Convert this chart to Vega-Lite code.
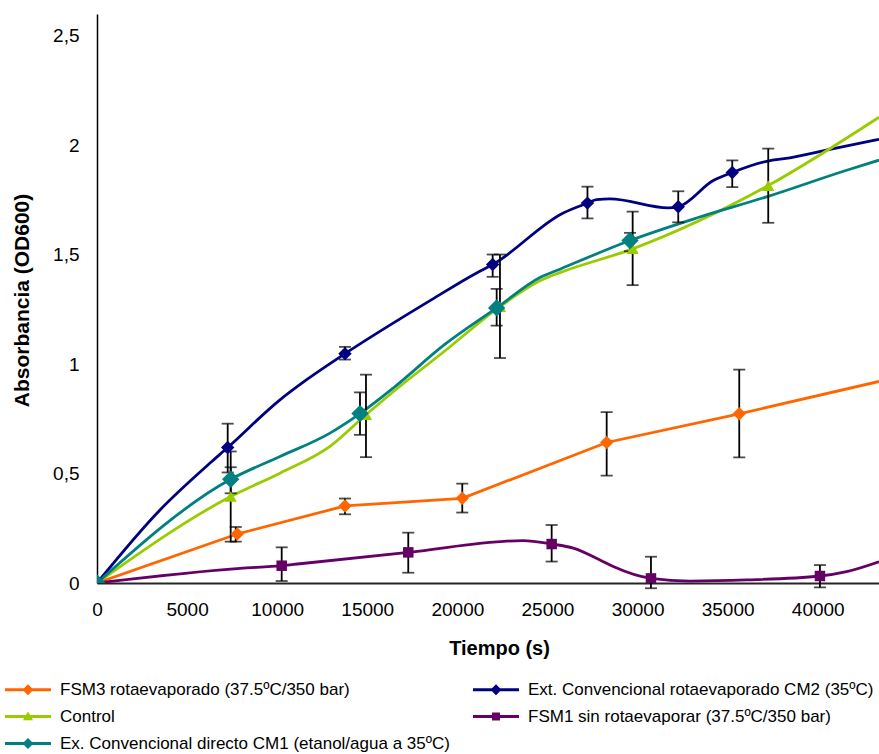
{
  "$schema": "https://vega.github.io/schema/vega-lite/v6.json",
  "width": 782,
  "height": 569,
  "autosize": "none",
  "padding": {"left": 97, "top": 14, "right": 0, "bottom": 171},
  "background": "white",
  "config": {"view": {"stroke": null}, "font": "Liberation Sans"},
  "datasets": {
    "lines": [
      {"series": "FSM3 rotaevaporado (37.5ºC/350 bar)", "t": 0, "od": 0},
      {"series": "FSM3 rotaevaporado (37.5ºC/350 bar)", "t": 7786, "od": 0.224},
      {"series": "FSM3 rotaevaporado (37.5ºC/350 bar)", "t": 13763, "od": 0.352},
      {"series": "FSM3 rotaevaporado (37.5ºC/350 bar)", "t": 20272, "od": 0.387},
      {"series": "FSM3 rotaevaporado (37.5ºC/350 bar)", "t": 28286, "od": 0.642},
      {"series": "FSM3 rotaevaporado (37.5ºC/350 bar)", "t": 35644, "od": 0.773},
      {"series": "FSM3 rotaevaporado (37.5ºC/350 bar)", "t": 43400, "od": 0.921},
      {"series": "Ext. Convencional rotaevaporado CM2 (35ºC)", "t": 0, "od": 0},
      {"series": "Ext. Convencional rotaevaporado CM2 (35ºC)", "t": 3496, "od": 0.334},
      {"series": "Ext. Convencional rotaevaporado CM2 (35ºC)", "t": 6271, "od": 0.548},
      {"series": "Ext. Convencional rotaevaporado CM2 (35ºC)", "t": 7253, "od": 0.619},
      {"series": "Ext. Convencional rotaevaporado CM2 (35ºC)", "t": 10155, "od": 0.837},
      {"series": "Ext. Convencional rotaevaporado CM2 (35ºC)", "t": 11637, "od": 0.929},
      {"series": "Ext. Convencional rotaevaporado CM2 (35ºC)", "t": 13763, "od": 1.048},
      {"series": "Ext. Convencional rotaevaporado CM2 (35ºC)", "t": 18574, "od": 1.295},
      {"series": "Ext. Convencional rotaevaporado CM2 (35ºC)", "t": 21071, "od": 1.417},
      {"series": "Ext. Convencional rotaevaporado CM2 (35ºC)", "t": 21959, "od": 1.455},
      {"series": "Ext. Convencional rotaevaporado CM2 (35ºC)", "t": 25877, "od": 1.691},
      {"series": "Ext. Convencional rotaevaporado CM2 (35ºC)", "t": 27220, "od": 1.736},
      {"series": "Ext. Convencional rotaevaporado CM2 (35ºC)", "t": 27731, "od": 1.752},
      {"series": "Ext. Convencional rotaevaporado CM2 (35ºC)", "t": 28469, "od": 1.755},
      {"series": "Ext. Convencional rotaevaporado CM2 (35ºC)", "t": 31704, "od": 1.714},
      {"series": "Ext. Convencional rotaevaporado CM2 (35ºC)", "t": 32259, "od": 1.719},
      {"series": "Ext. Convencional rotaevaporado CM2 (35ºC)", "t": 34201, "od": 1.839},
      {"series": "Ext. Convencional rotaevaporado CM2 (35ºC)", "t": 35256, "od": 1.876},
      {"series": "Ext. Convencional rotaevaporado CM2 (35ºC)", "t": 37164, "od": 1.927},
      {"series": "Ext. Convencional rotaevaporado CM2 (35ºC)", "t": 38457, "od": 1.943},
      {"series": "Ext. Convencional rotaevaporado CM2 (35ºC)", "t": 40677, "od": 1.981},
      {"series": "Ext. Convencional rotaevaporado CM2 (35ºC)", "t": 43400, "od": 2.027},
      {"series": "Control", "t": 0, "od": 0},
      {"series": "Control", "t": 7420, "od": 0.395},
      {"series": "Control", "t": 10155, "od": 0.502},
      {"series": "Control", "t": 12930, "od": 0.624},
      {"series": "Control", "t": 14928, "od": 0.769},
      {"series": "Control", "t": 16443, "od": 0.874},
      {"series": "Control", "t": 19300, "od": 1.06},
      {"series": "Control", "t": 22364, "od": 1.263},
      {"series": "Control", "t": 24584, "od": 1.381},
      {"series": "Control", "t": 25693, "od": 1.418},
      {"series": "Control", "t": 29728, "od": 1.527},
      {"series": "Control", "t": 37253, "od": 1.816},
      {"series": "Control", "t": 43400, "od": 2.128},
      {"series": "FSM1 sin rotaevaporar (37.5ºC/350 bar)", "t": 0, "od": 0},
      {"series": "FSM1 sin rotaevaporar (37.5ºC/350 bar)", "t": 7936, "od": 0.067},
      {"series": "FSM1 sin rotaevaporar (37.5ºC/350 bar)", "t": 10250, "od": 0.079},
      {"series": "FSM1 sin rotaevaporar (37.5ºC/350 bar)", "t": 11265, "od": 0.088},
      {"series": "FSM1 sin rotaevaporar (37.5ºC/350 bar)", "t": 17275, "od": 0.14},
      {"series": "FSM1 sin rotaevaporar (37.5ºC/350 bar)", "t": 23657, "od": 0.194},
      {"series": "FSM1 sin rotaevaporar (37.5ºC/350 bar)", "t": 25233, "od": 0.178},
      {"series": "FSM1 sin rotaevaporar (37.5ºC/350 bar)", "t": 26432, "od": 0.159},
      {"series": "FSM1 sin rotaevaporar (37.5ºC/350 bar)", "t": 27913, "od": 0.105},
      {"series": "FSM1 sin rotaevaporar (37.5ºC/350 bar)", "t": 28651, "od": 0.075},
      {"series": "FSM1 sin rotaevaporar (37.5ºC/350 bar)", "t": 30744, "od": 0.021},
      {"series": "FSM1 sin rotaevaporar (37.5ºC/350 bar)", "t": 32908, "od": 0.009},
      {"series": "FSM1 sin rotaevaporar (37.5ºC/350 bar)", "t": 36054, "od": 0.014},
      {"series": "FSM1 sin rotaevaporar (37.5ºC/350 bar)", "t": 40122, "od": 0.032},
      {"series": "FSM1 sin rotaevaporar (37.5ºC/350 bar)", "t": 41603, "od": 0.052},
      {"series": "FSM1 sin rotaevaporar (37.5ºC/350 bar)", "t": 43400, "od": 0.097},
      {"series": "Ex. Convencional directo CM1 (etanol/agua a 35ºC)", "t": 0, "od": 0},
      {"series": "Ex. Convencional directo CM1 (etanol/agua a 35ºC)", "t": 7420, "od": 0.474},
      {"series": "Ex. Convencional directo CM1 (etanol/agua a 35ºC)", "t": 10155, "od": 0.578},
      {"series": "Ex. Convencional directo CM1 (etanol/agua a 35ºC)", "t": 12930, "od": 0.685},
      {"series": "Ex. Convencional directo CM1 (etanol/agua a 35ºC)", "t": 14595, "od": 0.774},
      {"series": "Ex. Convencional directo CM1 (etanol/agua a 35ºC)", "t": 16443, "od": 0.891},
      {"series": "Ex. Convencional directo CM1 (etanol/agua a 35ºC)", "t": 19300, "od": 1.09},
      {"series": "Ex. Convencional directo CM1 (etanol/agua a 35ºC)", "t": 22181, "od": 1.257},
      {"series": "Ex. Convencional directo CM1 (etanol/agua a 35ºC)", "t": 24584, "od": 1.396},
      {"series": "Ex. Convencional directo CM1 (etanol/agua a 35ºC)", "t": 25693, "od": 1.434},
      {"series": "Ex. Convencional directo CM1 (etanol/agua a 35ºC)", "t": 29580, "od": 1.565},
      {"series": "Ex. Convencional directo CM1 (etanol/agua a 35ºC)", "t": 33278, "od": 1.668},
      {"series": "Ex. Convencional directo CM1 (etanol/agua a 35ºC)", "t": 37252, "od": 1.767},
      {"series": "Ex. Convencional directo CM1 (etanol/agua a 35ºC)", "t": 41603, "od": 1.886},
      {"series": "Ex. Convencional directo CM1 (etanol/agua a 35ºC)", "t": 43400, "od": 1.932}
    ],
    "markers": [
      {"grupo": "FSM3 rotaevaporado (37.5ºC/350 bar)", "t": 0, "od": 0},
      {"grupo": "FSM3 rotaevaporado (37.5ºC/350 bar)", "t": 7786, "od": 0.224},
      {"grupo": "FSM3 rotaevaporado (37.5ºC/350 bar)", "t": 13763, "od": 0.352},
      {"grupo": "FSM3 rotaevaporado (37.5ºC/350 bar)", "t": 20272, "od": 0.387},
      {"grupo": "FSM3 rotaevaporado (37.5ºC/350 bar)", "t": 28286, "od": 0.642},
      {"grupo": "FSM3 rotaevaporado (37.5ºC/350 bar)", "t": 35644, "od": 0.773},
      {"grupo": "Ext. Convencional rotaevaporado CM2 (35ºC)", "t": 0, "od": 0},
      {"grupo": "Ext. Convencional rotaevaporado CM2 (35ºC)", "t": 7253, "od": 0.619},
      {"grupo": "Ext. Convencional rotaevaporado CM2 (35ºC)", "t": 13763, "od": 1.048},
      {"grupo": "Ext. Convencional rotaevaporado CM2 (35ºC)", "t": 21959, "od": 1.455},
      {"grupo": "Ext. Convencional rotaevaporado CM2 (35ºC)", "t": 27220, "od": 1.736},
      {"grupo": "Ext. Convencional rotaevaporado CM2 (35ºC)", "t": 32259, "od": 1.719},
      {"grupo": "Ext. Convencional rotaevaporado CM2 (35ºC)", "t": 35256, "od": 1.876},
      {"grupo": "Control", "t": 0, "od": 0},
      {"grupo": "Control", "t": 7420, "od": 0.395},
      {"grupo": "Control", "t": 14928, "od": 0.769},
      {"grupo": "Control", "t": 22364, "od": 1.263},
      {"grupo": "Control", "t": 29728, "od": 1.527},
      {"grupo": "Control", "t": 37253, "od": 1.816},
      {"grupo": "FSM1 sin rotaevaporar (37.5ºC/350 bar)", "t": 0, "od": 0},
      {"grupo": "FSM1 sin rotaevaporar (37.5ºC/350 bar)", "t": 10250, "od": 0.079},
      {"grupo": "FSM1 sin rotaevaporar (37.5ºC/350 bar)", "t": 17275, "od": 0.14},
      {"grupo": "FSM1 sin rotaevaporar (37.5ºC/350 bar)", "t": 25233, "od": 0.178},
      {"grupo": "FSM1 sin rotaevaporar (37.5ºC/350 bar)", "t": 30744, "od": 0.021},
      {"grupo": "FSM1 sin rotaevaporar (37.5ºC/350 bar)", "t": 40122, "od": 0.032},
      {"grupo": "Ex. Convencional directo CM1 (etanol/agua a 35ºC)", "t": 0, "od": 0},
      {"grupo": "Ex. Convencional directo CM1 (etanol/agua a 35ºC)", "t": 7420, "od": 0.474},
      {"grupo": "Ex. Convencional directo CM1 (etanol/agua a 35ºC)", "t": 14595, "od": 0.774},
      {"grupo": "Ex. Convencional directo CM1 (etanol/agua a 35ºC)", "t": 22181, "od": 1.257},
      {"grupo": "Ex. Convencional directo CM1 (etanol/agua a 35ºC)", "t": 29580, "od": 1.565}
    ],
    "errors": [
      {"series": "FSM3 rotaevaporado (37.5ºC/350 bar)", "t": 7700, "lo": 0.189, "hi": 0.256},
      {"series": "FSM3 rotaevaporado (37.5ºC/350 bar)", "t": 13763, "lo": 0.314, "hi": 0.386},
      {"series": "FSM3 rotaevaporado (37.5ºC/350 bar)", "t": 20272, "lo": 0.322, "hi": 0.454},
      {"series": "FSM3 rotaevaporado (37.5ºC/350 bar)", "t": 28286, "lo": 0.491, "hi": 0.781},
      {"series": "FSM3 rotaevaporado (37.5ºC/350 bar)", "t": 35644, "lo": 0.574, "hi": 0.975},
      {"series": "Ext. Convencional rotaevaporado CM2 (35ºC)", "t": 7253, "lo": 0.505, "hi": 0.728},
      {"series": "Ext. Convencional rotaevaporado CM2 (35ºC)", "t": 13763, "lo": 1.021, "hi": 1.079},
      {"series": "Ext. Convencional rotaevaporado CM2 (35ºC)", "t": 21959, "lo": 1.399, "hi": 1.501},
      {"series": "Ext. Convencional rotaevaporado CM2 (35ºC)", "t": 27220, "lo": 1.666, "hi": 1.811},
      {"series": "Ext. Convencional rotaevaporado CM2 (35ºC)", "t": 32259, "lo": 1.648, "hi": 1.79},
      {"series": "Ext. Convencional rotaevaporado CM2 (35ºC)", "t": 35256, "lo": 1.809, "hi": 1.931},
      {"series": "Control", "t": 7420, "lo": 0.189, "hi": 0.601},
      {"series": "Control", "t": 14928, "lo": 0.575, "hi": 0.952},
      {"series": "Control", "t": 22364, "lo": 1.028, "hi": 1.501},
      {"series": "Control", "t": 29728, "lo": 1.361, "hi": 1.697},
      {"series": "Control", "t": 37253, "lo": 1.646, "hi": 1.985},
      {"series": "FSM1 sin rotaevaporar (37.5ºC/350 bar)", "t": 10250, "lo": 0.009, "hi": 0.163},
      {"series": "FSM1 sin rotaevaporar (37.5ºC/350 bar)", "t": 17275, "lo": 0.047, "hi": 0.23},
      {"series": "FSM1 sin rotaevaporar (37.5ºC/350 bar)", "t": 25233, "lo": 0.098, "hi": 0.265},
      {"series": "FSM1 sin rotaevaporar (37.5ºC/350 bar)", "t": 30744, "lo": -0.024, "hi": 0.12},
      {"series": "FSM1 sin rotaevaporar (37.5ºC/350 bar)", "t": 40122, "lo": -0.02, "hi": 0.082},
      {"series": "Ex. Convencional directo CM1 (etanol/agua a 35ºC)", "t": 7420, "lo": 0.41, "hi": 0.529},
      {"series": "Ex. Convencional directo CM1 (etanol/agua a 35ºC)", "t": 14595, "lo": 0.677, "hi": 0.871},
      {"series": "Ex. Convencional directo CM1 (etanol/agua a 35ºC)", "t": 22181, "lo": 1.176, "hi": 1.344},
      {"series": "Ex. Convencional directo CM1 (etanol/agua a 35ºC)", "t": 29580, "lo": 1.516, "hi": 1.6}
    ]
  },
  "layer": [
    {
      "data": {"name": "lines"},
      "transform": [{"filter": "datum.series === 'FSM3 rotaevaporado (37.5ºC/350 bar)'"}],
      "mark": {"type": "line", "interpolate": "linear", "strokeWidth": 2.8, "clip": true},
      "encoding": {
        "x": {
          "field": "t", "type": "quantitative",
          "scale": {"domain": [0, 43400], "nice": false, "zero": false},
          "axis": {
            "title": "Tiempo (s)",
            "values": [0, 5000, 10000, 15000, 20000, 25000, 30000, 35000, 40000],
            "format": "d", "grid": false, "ticks": false, "tickSize": 0,
            "domainColor": "#262626", "domainWidth": 2,
            "labelFont": "Liberation Sans", "labelFontSize": 19, "labelColor": "black",
            "labelPadding": 17, "labelFlush": false, "labelOverlap": false,
            "titleFont": "Liberation Sans", "titleFontWeight": "bold", "titleFontSize": 20,
            "titleColor": "black", "titleX": 402, "titleY": 65, "titleBaseline": "middle", "titleAlign": "center"
          }
        },
        "y": {
          "field": "od", "type": "quantitative",
          "scale": {"domain": [0, 2.6], "nice": false},
          "axis": {
            "title": "Absorbancia (OD600)",
            "values": [0, 0.5, 1, 1.5, 2, 2.5],
            "labelExpr": "replace(format(datum.value, ''), '.', ',')",
            "grid": false, "ticks": false, "tickSize": 0,
            "domainColor": "black", "domainWidth": 1.5,
            "labelFont": "Liberation Sans", "labelFontSize": 19, "labelColor": "black",
            "labelPadding": 18, "labelFlush": false, "labelOverlap": false,
            "titleFont": "Liberation Sans", "titleFontWeight": "bold", "titleFontSize": 21,
            "titleColor": "black", "titleX": -75, "titleY": 286, "titleAngle": -90,
            "titleAlign": "center", "titleBaseline": "middle"
          }
        },
        "color": {
          "field": "series", "type": "nominal",
          "scale": {
            "domain": ["FSM3 rotaevaporado (37.5ºC/350 bar)", "Ext. Convencional rotaevaporado CM2 (35ºC)", "Control", "FSM1 sin rotaevaporar (37.5ºC/350 bar)", "Ex. Convencional directo CM1 (etanol/agua a 35ºC)"],
            "range": ["#FF6600", "#000080", "#99CC00", "#660066", "#008080"]
          },
          "legend": {
            "title": null, "orient": "none", "legendX": -95, "legendY": 667,
            "direction": "horizontal",
            "columns": 2, "columnPadding": 20, "rowPadding": 9,
            "symbolSize": 121, "labelOffset": 41,
            "labelFont": "Liberation Sans", "labelFontSize": 17, "labelColor": "black", "labelLimit": 600,
            "encode": {
              "symbols": {
                "update": {
                  "shape": {"signal": "datum.value === 'Control' ? 'M-1,-0.27H7.36V0.27H-1Z M3.18,-0.9L4.1,0.7L2.26,0.7Z' : (datum.value === 'FSM1 sin rotaevaporar (37.5ºC/350 bar)' ? 'M-1,-0.27H7.36V0.27H-1Z M2.45,-0.73H3.91V0.73H2.45Z' : 'M-1,-0.27H7.36V0.27H-1Z M3.18,-1L4.18,0L3.18,1L2.18,0Z')"},
                  "fill": {"scale": "color", "field": "value"},
                  "stroke": {"value": "transparent"},
                  "strokeWidth": {"value": 0},
                  "opacity": {"value": 1}
                }
              }
            }
          }
        }
      }
    },
    {
      "data": {"name": "lines"},
      "transform": [{"filter": "datum.series !== 'FSM3 rotaevaporado (37.5ºC/350 bar)'"}],
      "mark": {"type": "line", "interpolate": "monotone", "strokeWidth": 2.8, "clip": true},
      "encoding": {
        "x": {"field": "t", "type": "quantitative"},
        "y": {"field": "od", "type": "quantitative"},
        "color": {"field": "series", "type": "nominal"}
      }
    },
    {
      "data": {"name": "errors"},
      "mark": {"type": "errorbar", "ticks": {"size": 12, "thickness": 1.8, "color": "black"}, "rule": {"color": "black", "strokeWidth": 1.8}},
      "encoding": {
        "x": {"field": "t", "type": "quantitative"},
        "y": {"field": "lo", "type": "quantitative", "title": "Absorbancia (OD600)"},
        "y2": {"field": "hi"}
      }
    },
    {
      "data": {"name": "markers"},
      "mark": {"type": "point", "filled": true, "opacity": 1, "clip": true},
      "encoding": {
        "x": {"field": "t", "type": "quantitative"},
        "y": {"field": "od", "type": "quantitative"},
        "fill": {
          "field": "grupo", "type": "nominal", "legend": null,
          "scale": {"range": ["#99CC00", "#008080", "#000080", "#660066", "#FF6600"]}
        },
        "shape": {
          "field": "grupo", "type": "nominal", "legend": null,
          "scale": {"range": ["triangle-up", "diamond", "diamond", "square", "diamond"]}
        },
        "size": {
          "field": "grupo", "type": "nominal", "legend": null,
          "scale": {"type": "ordinal", "range": [150, 300, 180, 110, 180]}
        }
      }
    }
  ]
}
